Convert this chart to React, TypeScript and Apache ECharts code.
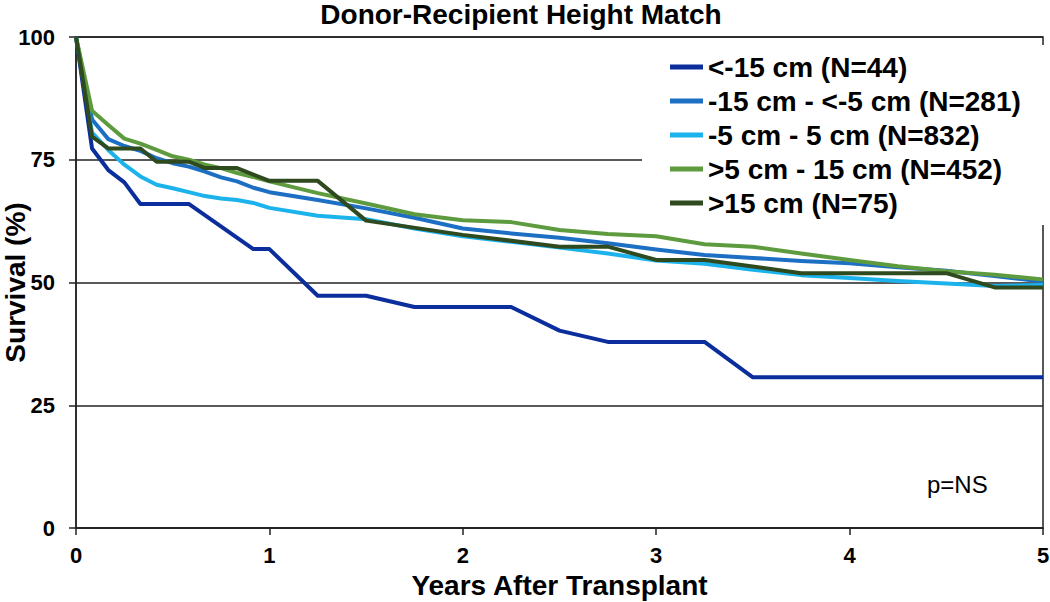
import React, { useEffect, useRef } from "react";
import * as echarts from "echarts";

const TITLE = "Donor-Recipient Height Match";
const X_NAME = "Years After Transplant";
const Y_NAME = "Survival (%)";
const P_TEXT = "p=NS";

const SERIES_NAMES = [
  "<-15 cm (N=44)",
  "-15 cm - <-5 cm (N=281)",
  "-5 cm - 5 cm (N=832)",
  ">5 cm - 15 cm (N=452)",
  ">15 cm (N=75)",
];
const SERIES_COLORS = ["#0B2E9C", "#1D6FC4", "#1CB3EC", "#5E9B3E", "#2F4A1F"];

// shared time grid (years) for the three large groups
const yearsShared = [
  0, 0.083, 0.167, 0.25, 0.333, 0.417, 0.5, 0.583, 0.667, 0.75, 0.833, 0.917, 1,
  1.25, 1.5, 1.75, 2, 2.25, 2.5, 2.75, 3, 3.25, 3.5, 3.75, 4, 4.25, 4.5, 4.75, 5,
];
const survMinus15to5 = [
  100, 83.2, 79.2, 77.8, 76.8, 75.3, 74.3, 73.6, 72.6, 71.4, 70.6, 69.3, 68.4,
  66.8, 65.1, 63.2, 61.0, 60.0, 59.1, 58.0, 56.7, 55.6, 55.0, 54.4, 53.9, 53.1, 52.4, 51.3, 50.2,
];
const survMinus5to5 = [
  100, 80.5, 77.0, 74.0, 71.6, 69.9, 69.2, 68.4, 67.6, 67.1, 66.8, 66.2, 65.2,
  63.6, 62.9, 61.0, 59.4, 58.3, 57.1, 55.9, 54.5, 53.8, 52.6, 51.5, 50.9, 50.3, 49.8, 49.3, 49.5,
];
const surv5to15 = [
  100, 85.0, 82.1, 79.3, 78.3, 77.0, 75.7, 75.0, 74.0, 73.3, 72.3, 71.5, 70.6,
  68.2, 66.1, 63.9, 62.7, 62.3, 60.7, 59.9, 59.4, 57.8, 57.3, 55.9, 54.6, 53.3, 52.3, 51.6, 50.6,
];

// small groups: step-like curves
const yearsBelow15 = [0, 0.083, 0.167, 0.25, 0.333, 0.583, 0.917, 1, 1.25, 1.5, 1.75, 2.25, 2.5, 2.75, 3.25, 3.5, 5];
const survBelow15 = [100, 77.3, 72.9, 70.4, 66.0, 66.0, 56.8, 56.8, 47.3, 47.3, 45.0, 45.0, 40.2, 37.9, 37.9, 30.7, 30.7];

const yearsAbove15 = [0, 0.083, 0.167, 0.333, 0.417, 0.583, 0.667, 0.833, 1, 1.25, 1.5, 2, 2.5, 2.75, 3, 3.25, 3.75, 4.5, 4.75, 5];
const survAbove15 = [100, 79.7, 77.3, 77.3, 74.6, 74.6, 73.3, 73.3, 70.7, 70.7, 62.6, 59.7, 57.3, 57.3, 54.6, 54.6, 51.9, 51.9, 49.0, 49.0];

const xTicks = [0, 1, 2, 3, 4, 5];
const yTicks = [0, 25, 50, 75, 100];

const FONT = "'Liberation Sans', Arial, Helvetica, sans-serif";

function pairs(xs: number[], ys: number[]) {
  return xs.map((x, i) => [x, ys[i]]);
}

export default function App() {
  const ref = useRef<HTMLDivElement>(null);

  useEffect(() => {
    if (!ref.current) return;
    const chart = echarts.init(ref.current, undefined, { renderer: "svg" });
    const seriesData = [
      pairs(yearsBelow15, survBelow15),
      pairs(yearsShared, survMinus15to5),
      pairs(yearsShared, survMinus5to5),
      pairs(yearsShared, surv5to15),
      pairs(yearsAbove15, survAbove15),
    ];
    chart.setOption({
      animation: false,
      backgroundColor: "#ffffff",
      title: {
        text: TITLE,
        left: 521,
        textAlign: "center",
        top: 0,
        padding: 0,
        textStyle: { fontFamily: FONT, fontWeight: "bold", fontSize: 28, lineHeight: 28, color: "#000" },
      },
      grid: {
        left: 76,
        right: 7,
        top: 37,
        bottom: 74,
        containLabel: false,
        outerBoundsMode: "none",
        show: true,
        borderColor: "#222",
        borderWidth: 1.5,
        backgroundColor: "transparent",
      },
      legend: {
        orient: "vertical",
        left: 642,
        top: 45,
        padding: [8, 40, 8, 28],
        backgroundColor: "#ffffff",
        itemWidth: 33,
        itemHeight: 5,
        itemGap: 6,
        icon: "rect",
        data: SERIES_NAMES,
        textStyle: {
          fontFamily: FONT,
          fontWeight: "bold",
          fontSize: 28,
          lineHeight: 28,
          color: "#000",
        },
        z: 10,
      },
      xAxis: {
        type: "value",
        min: xTicks[0],
        max: xTicks[xTicks.length - 1],
        interval: 1,
        name: X_NAME,
        nameLocation: "middle",
        nameGap: 43,
        nameMoveOverlap: false,
        nameTextStyle: { fontFamily: FONT, fontWeight: "bold", fontSize: 28, color: "#000" },
        axisLine: { show: true, onZero: false, lineStyle: { color: "#222", width: 1.5 } },
        axisTick: { show: true, inside: false, length: 7, lineStyle: { color: "#222", width: 1.5 } },
        axisLabel: { margin: 16, fontFamily: FONT, fontWeight: "bold", fontSize: 22, color: "#000" },
        splitLine: { show: false },
      },
      yAxis: {
        type: "value",
        min: yTicks[0],
        max: yTicks[yTicks.length - 1],
        interval: 25,
        name: Y_NAME,
        nameLocation: "middle",
        nameGap: 48,
        nameMoveOverlap: false,
        nameTextStyle: { fontFamily: FONT, fontWeight: "bold", fontSize: 28, lineHeight: 26, color: "#000" },
        axisLine: { show: true, lineStyle: { color: "#222", width: 1.5 } },
        axisTick: { show: true, inside: false, length: 7, lineStyle: { color: "#222", width: 1.5 } },
        axisLabel: { margin: 21, fontFamily: FONT, fontWeight: "bold", fontSize: 22, color: "#000" },
        splitLine: { show: true, lineStyle: { color: "#222", width: 1.5 } },
      },
      graphic: [
        {
          type: "text",
          left: 927,
          top: 472,
          style: { text: P_TEXT, fontFamily: FONT, fontSize: 24, fill: "#000" },
        },
      ],
      series: SERIES_NAMES.map((name, i) => ({
        name,
        type: "line",
        data: seriesData[i],
        showSymbol: false,
        symbol: "none",
        color: SERIES_COLORS[i],
        lineStyle: { width: 4, color: SERIES_COLORS[i], join: "round" },
        z: 2 + i * 0.01,
      })),
    });
    return () => chart.dispose();
  }, []);

  return <div ref={ref} style={{ width: 1050, height: 602, position: "absolute", left: 0, top: 0 }} />;
}
